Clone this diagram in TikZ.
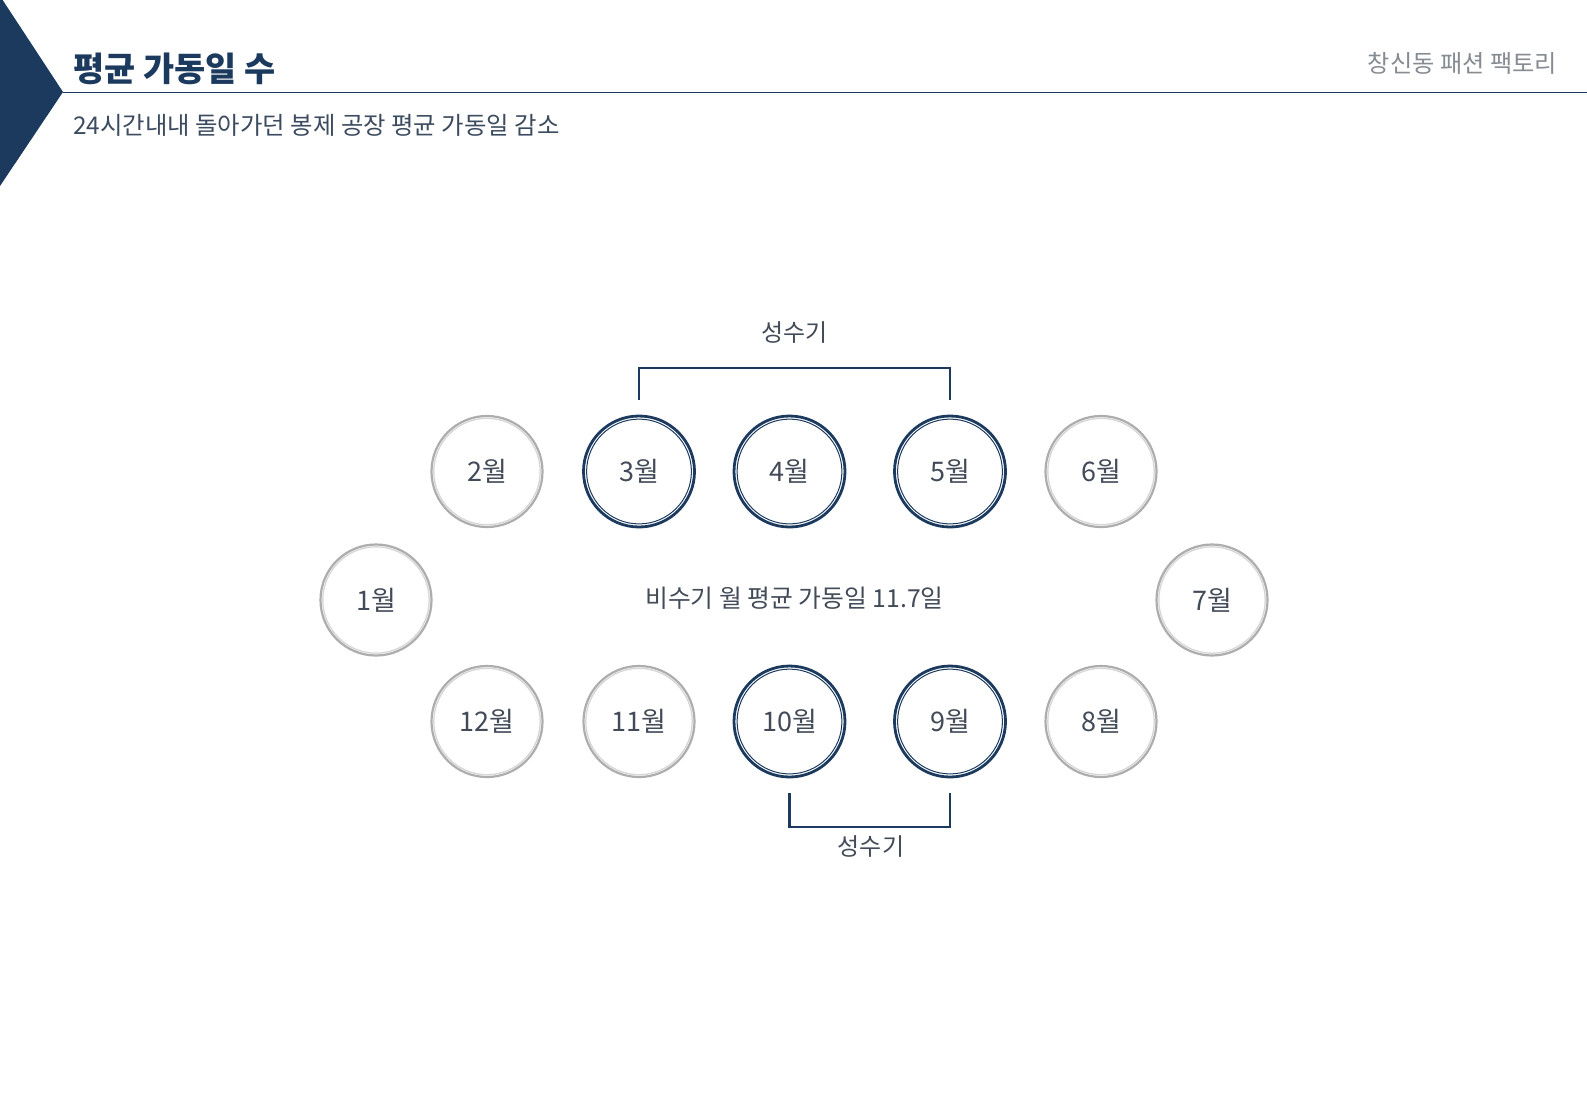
\documentclass[tikz,border=0pt]{standalone}
\usepackage{fontspec}
\setmainfont{Noto Sans CJK KR}
\definecolor{navy}{HTML}{1B3A5E}
\definecolor{ringgray}{HTML}{ADADAD}
\definecolor{ringgraylt}{HTML}{D6D6D6}
\definecolor{txt}{HTML}{434B58}
\definecolor{subtxt}{HTML}{3C4B5F}
\definecolor{corner}{HTML}{868B92}
\begin{document}
\begin{tikzpicture}[x=1pt,y=-1pt,
  mon/.style={circle, minimum size=111pt, inner sep=0pt, text=txt,
    font=\fontsize{27}{27}\selectfont},
  offmon/.style={mon, draw=ringgray, line width=2.2pt,
    path picture={\draw[ringgraylt, line width=1.3pt] (path picture bounding box.center) circle (53.2pt);}},
  peakmon/.style={mon, draw=navy, line width=2.8pt,
    path picture={\draw[navy, line width=1pt] (path picture bounding box.center) circle (52.4pt);}},
  brk/.style={draw=navy, line width=2.6pt},
  lbl/.style={text=txt, inner sep=0pt, font=\fontsize{24}{24}\selectfont}
]
\useasboundingbox[fill=white] (0,0) rectangle (1587,1096);
% header
\fill[navy] (0,-4) -- (63,92) -- (0,186) -- cycle;
\coordinate (apex) at (63,92);
\coordinate (lineend) at (1587,92);
\draw[navy, line width=0.9pt] (apex) -- (lineend);
\node[anchor=west, inner sep=0pt, text=navy, font=\fontsize{33.8}{33.8}\selectfont\bfseries] (title) at (73,69) {평균 가동일 수};
\node[anchor=west, inner sep=0pt, text=subtxt, font=\fontsize{24.4}{24.4}\selectfont] (subtitle) at (73,125) {24시간내내 돌아가던 봉제 공장 평균 가동일 감소};
\node[anchor=east, inner sep=0pt, text=corner, font=\fontsize{24.2}{24.2}\selectfont] (brand) at (1557,63) {창신동 패션 팩토리};
% months
\node[offmon] (m2) at (487,471.5) {2월};
\node[peakmon] (m3) at (639,471.5) {3월};
\node[peakmon] (m4) at (789.5,471.5) {4월};
\node[peakmon] (m5) at (950,471.5) {5월};
\node[offmon] (m6) at (1101,471.5) {6월};
\node[offmon] (m1) at (376,600) {1월};
\node[offmon] (m7) at (1212,600) {7월};
\node[offmon] (m12) at (487,721.5) {12월};
\node[offmon] (m11) at (639,721.5) {11월};
\node[peakmon] (m10) at (789.5,721.5) {10월};
\node[peakmon] (m9) at (950,721.5) {9월};
\node[offmon] (m8) at (1101,721.5) {8월};
\node[lbl, font=\fontsize{24.8}{24.8}\selectfont] (center) at (794.5,598) {비수기 월 평균 가동일 11.7일};
% top bracket
\coordinate (t1) at (m3 |- 0,400);
\coordinate (t2) at (m3 |- 0,368);
\coordinate (t3) at (m5 |- 0,368);
\coordinate (t4) at (m5 |- 0,400);
\draw[brk] (t1) -- (t2) -- (t3) -- (t4);
\node[lbl] (peaktop) at (794.5,333) {성수기};
% bottom bracket
\coordinate (b1) at (m10 |- 0,793);
\coordinate (b2) at (m10 |- 0,827);
\coordinate (b3) at (m9 |- 0,827);
\coordinate (b4) at (m9 |- 0,793);
\draw[brk] (b1) -- (b2) -- (b3) -- (b4);
\node[lbl] (peakbot) at (871,846) {성수기};
\end{tikzpicture}
\end{document}
